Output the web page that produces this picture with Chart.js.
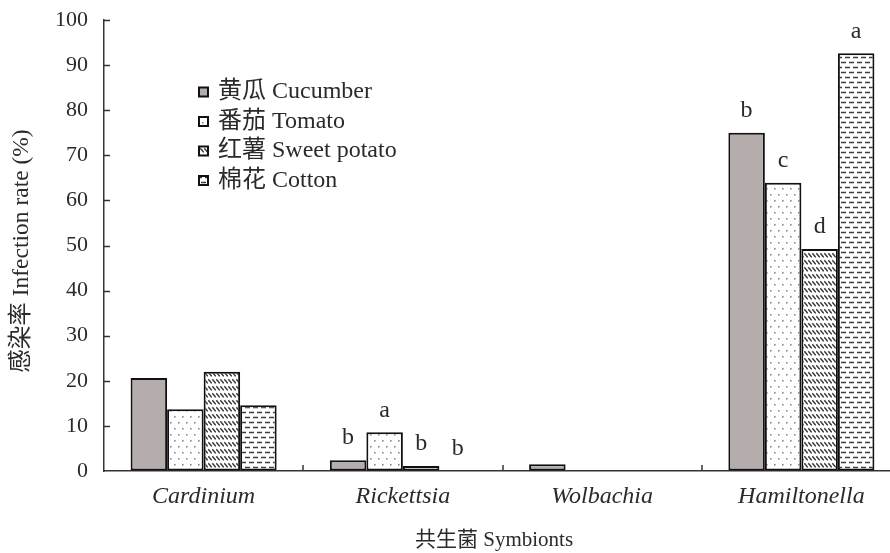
<!DOCTYPE html>
<html>
<head>
<meta charset="utf-8">
<script src="https://cdn.jsdelivr.net/npm/chart.js@4.4.1/dist/chart.umd.min.js"></script>
<style>
  html, body { margin: 0; padding: 0; background: #ffffff; overflow: hidden; }
  #wrap { width: 905px; height: 553px; }
</style>
</head>
<body>
<div id="wrap"><canvas id="c" width="905" height="553"></canvas></div>
<script>
// Symbiont infection rates per host plant
const categories = ['Cardinium', 'Rickettsia', 'Wolbachia', 'Hamiltonella'];
const seriesNames = ['黄瓜 Cucumber', '番茄 Tomato', '红薯 Sweet potato', '棉花 Cotton'];
const cucumber    = [20.6, 2.4, 1.5, 75.0];
const tomato      = [13.7, 8.6, 0, 63.9];
const sweetPotato = [22.0, 1.1, 0, 49.2];
const cotton      = [14.6, 0, 0, 92.6];
// significance letters above bars
const cucumberSig    = ['', 'b', '', 'b'];
const tomatoSig      = ['', 'a', '', 'c'];
const sweetPotatoSig = ['', 'b', '', 'd'];
const cottonSig      = ['', 'b', '', 'a'];
const yTicks = [0, 10, 20, 30, 40, 50, 60, 70, 80, 90, 100];

const SERIF = '"Liberation Serif", "Noto Sans CJK SC", serif';
const INK = '#2a2a2a';

function tile(w, h, paint) {
  const cv = document.createElement('canvas');
  cv.width = w; cv.height = h;
  const g = cv.getContext('2d');
  g.fillStyle = '#ffffff';
  g.fillRect(0, 0, w, h);
  paint(g);
  return document.createElement('canvas').getContext('2d').createPattern(cv, 'repeat');
}

const dotFill = tile(8, 12, g => {
  g.fillStyle = '#8a8a8a';
  g.fillRect(2, 2, 1.6, 1.6);
  g.fillRect(6, 8, 1.6, 1.6);
});
const hatchFill = tile(4, 7, g => {
  g.strokeStyle = '#3a3a3a';
  g.lineWidth = 1.5;
  g.beginPath();
  g.moveTo(0.3, 1.2); g.lineTo(3.7, 5.4);
  g.stroke();
});
const dashFill = tile(16, 10, g => {
  g.strokeStyle = '#3c3c3c';
  g.lineWidth = 1.6;
  g.beginPath();
  g.moveTo(1, 2.5); g.lineTo(6, 2.5);
  g.moveTo(9, 2.5); g.lineTo(14, 2.5);
  g.moveTo(5, 7.5); g.lineTo(10, 7.5);
  g.moveTo(13, 7.5); g.lineTo(16, 7.5);
  g.moveTo(0, 7.5); g.lineTo(2, 7.5);
  g.stroke();
});
const cucumberFill = '#b4adac';

const fills = [cucumberFill, dotFill, hatchFill, dashFill];
const values = [cucumber, tomato, sweetPotato, cotton];
const sigs = [cucumberSig, tomatoSig, sweetPotatoSig, cottonSig];

const datasets = values.map((v, i) => ({
  label: seriesNames[i],
  data: v,
  backgroundColor: fills[i],
  borderColor: '#111111',
  borderWidth: 2,
  borderSkipped: false,
  barPercentage: 1.0,
  categoryPercentage: 0.733,
  sig: sigs[i]
}));

// inward tick marks on both axes
const innerTicks = {
  id: 'innerTicks',
  afterDraw(chart) {
    const { ctx, chartArea, scales: { x, y } } = chart;
    ctx.save();
    ctx.strokeStyle = '#333333';
    ctx.lineWidth = 1.5;
    ctx.beginPath();
    yTicks.forEach(v => {
      if (v === 0) return;
      const py = Math.round(y.getPixelForValue(v)) + 0.5;
      ctx.moveTo(chartArea.left, py);
      ctx.lineTo(chartArea.left + 6, py);
    });
    for (let i = 0; i < categories.length - 1; i++) {
      const px = Math.round((x.getPixelForTick(i) + x.getPixelForTick(i + 1)) / 2);
      ctx.moveTo(px, chartArea.bottom);
      ctx.lineTo(px, chartArea.bottom - 6);
    }
    ctx.stroke();
    ctx.restore();
  }
};

// letters above bars
const sigLetters = {
  id: 'sigLetters',
  afterDatasetsDraw(chart) {
    const { ctx } = chart;
    ctx.save();
    ctx.fillStyle = INK;
    ctx.font = '24px ' + SERIF;
    ctx.textAlign = 'center';
    ctx.textBaseline = 'middle';
    chart.data.datasets.forEach((ds, i) => {
      const meta = chart.getDatasetMeta(i);
      meta.data.forEach((bar, j) => {
        const t = ds.sig[j];
        if (t) ctx.fillText(t, bar.x, bar.y - 22);
      });
    });
    ctx.restore();
  }
};

// legend box inside the plot, plus axis titles
const annotate = {
  id: 'annotate',
  afterDraw(chart, args, opts) {
    const { ctx } = chart;
    ctx.save();
    ctx.font = '24px ' + SERIF;
    ctx.textBaseline = 'middle';
    ctx.textAlign = 'left';
    chart.data.datasets.forEach((ds, i) => {
      const cy = opts.legendY + i * opts.legendStep;
      ctx.fillStyle = ds.backgroundColor;
      ctx.fillRect(opts.legendX, cy - 4.5, 9, 9);
      ctx.strokeStyle = '#111111';
      ctx.lineWidth = 2;
      ctx.strokeRect(opts.legendX, cy - 4.5, 9, 9);
      ctx.fillStyle = INK;
      ctx.fillText(ds.label, opts.legendX + 19, cy);
    });
    ctx.textAlign = 'center';
    ctx.font = '21px ' + SERIF;
    ctx.fillText('共生菌 Symbionts', opts.xTitleX, opts.xTitleY);
    ctx.font = '23.5px ' + SERIF;
    ctx.translate(opts.yTitleX, opts.yTitleY);
    ctx.rotate(-Math.PI / 2);
    ctx.fillText('感染率 Infection rate (%)', 0, 0);
    ctx.restore();
  }
};

new Chart(document.getElementById('c'), {
  type: 'bar',
  data: { labels: categories, datasets },
  plugins: [innerTicks, sigLetters, annotate],
  options: {
    responsive: false,
    animation: false,
    layout: { padding: { left: 0, top: 20, right: 4, bottom: 0 } },
    plugins: {
      legend: { display: false },
      tooltip: { enabled: false },
      annotate: {
        legendX: 199, legendY: 92, legendStep: 29.5,
        xTitleX: 494, xTitleY: 540,
        yTitleX: 22, yTitleY: 251
      }
    },
    scales: {
      x: {
        offset: true,
        grid: { display: true, drawOnChartArea: false, drawTicks: false, offset: true },
        border: { display: true, color: '#333333', width: 1.5 },
        ticks: {
          color: INK,
          padding: 11,
          font: { family: SERIF, size: 24, style: 'italic' }
        },
        afterFit(scale) {
          scale.height = 82;
          scale.paddingLeft = 0; scale.paddingRight = 0;
        }
      },
      y: {
        min: 0, max: 100,
        grid: { display: true, drawOnChartArea: false, drawTicks: false },
        border: { display: true, color: '#333333', width: 1.5 },
        ticks: {
          stepSize: 10,
          color: INK,
          padding: 16,
          font: { family: SERIF, size: 22 }
        },
        afterBuildTicks(scale) { scale.ticks = yTicks.map(v => ({ value: v })); },
        afterFit(scale) {
          scale.width = 104;
          scale.paddingTop = 0; scale.paddingBottom = 0;
        }
      }
    }
  }
});
</script>
</body>
</html>
